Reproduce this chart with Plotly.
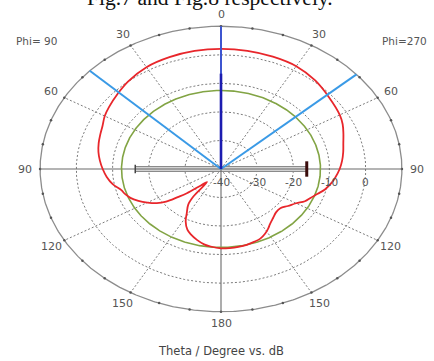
import numpy as np
import plotly.graph_objects as go

# ---------------- data ----------------
R_MIN, R_MAX = -40, 10                      # radial scale (dB): centre .. outer circle
ring_db = [-30, -20, -10, 0]                 # dashed rings
outer_db = 10                                # solid outer ring
spoke_deg = [30, 60, 120, 150, 210, 240, 300, 330]
angle_tick_deg = [0, 30, 60, 90, 120, 150, 180, 210, 240, 270, 300, 330]
angle_labels = ["0", "30", "60", "90", "120", "150", "180", "150", "120", "90", "60", "30"]
radial_tick_db = [-40, -30, -20, -10, 0]
radial_labels = ["-40", "-30", "-20", "-10", "0"]
phi_labels = ["Phi= 90", "Phi=270"]
axis_title = "Theta / Degree vs. dB"
caption_text = "Fig.7 and Fig.8 respectively."

# red: far-field pattern (theta in degrees, + = Phi=270 side, - = Phi=90 side)
red_theta = [-180, -174, -170, -165, -160, -156.4, -152, -148.5, -144, -141.6, -140,
             -136, -132, -129.5, -127, -124, -120, -116, -112, -108, -105, -100,
             -95, -90, -85, -80, -75, -70, -65, -60, -55, -47, -40, -30, -20, -10,
             0, 10, 20, 30, 40, 50, 60, 65, 70, 75, 80, 85, 90, 96, 100, 104, 108,
             112, 116, 120, 125, 130, 135, 140, 145, 148, 152, 156, 160, 165, 170,
             175, 180]
red_db = [-12.2, -12.7, -13.2, -14.3, -15.6, -16.8, -19.2, -21.9, -24.6, -27.7, -34.0,
          -32.0, -27.3, -24.5, -21.0, -18.6, -16.5, -14.6, -13.0, -12.0, -11.5, -9.6,
          -8.3, -7.3, -6.4, -5.6, -5.0, -4.5, -3.9, -2.9, -2.2, -1.1, 0.0, 1.2, 1.7, 2.0,
          2.1, 2.05, 1.9, 1.6, 0.5, -1.0, -2.1, -2.9, -4.0, -5.0, -5.7, -6.4, -7.2, -8.4,
          -9.3, -10.4, -11.9, -13.2, -14.2, -16.0, -17.4, -18.6, -18.5, -17.6, -16.4,
          -15.4, -14.2, -13.3, -12.9, -12.5, -12.3, -12.2, -12.2]

green_db = -12.5                 # reference (-3 dB style) circle
main_lobe_deg = 0                # main lobe direction marker
main_lobe_dark_db = -6.6
beam_edge_deg = [-46.5, 48.5]    # angular width markers
bar_theta = [-90, 90]            # grey side-lobe bar
bar_db = -16.3

# ---------------- helpers ----------------
def xy(theta_deg, db):
    t = np.radians(np.asarray(theta_deg, dtype=float))
    rn = (np.asarray(db, dtype=float) - R_MIN) / (R_MAX - R_MIN)
    return rn * np.sin(t), rn * np.cos(t)

full_circle = np.linspace(0, 360, 721)
FONT = "DejaVu Sans"
GRID = "#7c7c7c"

fig = go.Figure()

def add_line(x, y, color, width, dash=None, shape="linear"):
    fig.add_trace(go.Scatter(x=x, y=y, mode="lines", hoverinfo="skip",
                             line=dict(color=color, width=width, dash=dash, shape=shape)))

# dashed rings
for d in ring_db:
    x, y = xy(full_circle, [d] * len(full_circle))
    add_line(x, y, GRID, 1, dash="2px,2px")
# dashed spokes
for a in spoke_deg:
    x, y = xy([a, a], [R_MIN, outer_db])
    add_line(x, y, GRID, 1, dash="2px,2px")
# outer ring
x, y = xy(full_circle, [outer_db] * len(full_circle))
add_line(x, y, "#8c8c8c", 1.3)
# small ticks on outer ring every 10 degrees
tk = np.arange(0, 360, 10)
x, y = xy(tk, [outer_db] * len(tk))
fig.add_trace(go.Scatter(x=x, y=y, mode="markers", hoverinfo="skip",
                         marker=dict(size=2.5, color="#555555")))

# grey bar
x, y = xy(bar_theta, [bar_db, bar_db])
add_line(x, y, "#8a8a8a", 6)
add_line(x, y, "#d2d2d2", 4)

# solid axes
x, y = xy([270, 90], [outer_db, outer_db])
add_line(x, y, "#6a6a6a", 1.1)
x, y = xy([0, 180], [outer_db, outer_db])
add_line(x, y, "#6a6a6a", 1.1)

# bar end caps
x, y = xy([bar_theta[0]], [bar_db])
fig.add_trace(go.Scatter(x=x, y=y, mode="markers", hoverinfo="skip",
                         marker=dict(symbol="line-ns", size=6,
                                     line=dict(width=1.5, color="#444444"))))
x, y = xy([bar_theta[1]], [bar_db])
fig.add_trace(go.Scatter(x=x, y=y, mode="markers", hoverinfo="skip",
                         marker=dict(symbol="line-ns", size=11,
                                     line=dict(width=3, color="#3a0c0c"))))

# green reference circle
x, y = xy(full_circle, [green_db] * len(full_circle))
add_line(x, y, "#82a444", 1.6)

# red pattern
x, y = xy(red_theta, red_db)
add_line(x, y, "#e8262b", 1.8, shape="spline")

# beam edge markers (light blue)
for a in beam_edge_deg:
    x, y = xy([a, a], [R_MIN, outer_db])
    add_line(x, y, "#3a9ae6", 2)

# main lobe marker
x, y = xy([main_lobe_deg, main_lobe_deg], [R_MIN, outer_db])
add_line(x, y, "#3d55d0", 2)
x, y = xy([main_lobe_deg, main_lobe_deg], [R_MIN, main_lobe_dark_db])
add_line(x, y, "#1c1cb0", 2.6)

# ---------------- text ----------------
ann = []
R_LAB = 1.085
for a, lab in zip(angle_tick_deg, angle_labels):
    t = np.radians(a)
    ann.append(dict(x=R_LAB * np.sin(t), y=R_LAB * np.cos(t), xref="x", yref="y",
                    text=lab, showarrow=False,
                    font=dict(family=FONT, size=11, color="#555555")))
for d, lab in zip(radial_tick_db, radial_labels):
    rx, _ = xy([90], [d])
    ann.append(dict(x=float(rx[0]), y=-0.089, xref="x", yref="y", text=lab,
                    showarrow=False, font=dict(family=FONT, size=10.5, color="#555555")))
ann.append(dict(x=-1.018, y=0.9, xref="x", yref="y", text=phi_labels[0], showarrow=False,
                font=dict(family=FONT, size=10.5, color="#555555")))
ann.append(dict(x=1.017, y=0.9, xref="x", yref="y", text=phi_labels[1], showarrow=False,
                font=dict(family=FONT, size=10.5, color="#555555")))
ann.append(dict(x=0.5, y=-0.0787, xref="paper", yref="paper", text=axis_title,
                showarrow=False, xanchor="center", yanchor="middle",
                font=dict(family=FONT, size=11.5, color="#444444")))
ann.append(dict(x=0.4736, y=1.044, xref="paper", yref="paper", text=caption_text,
                showarrow=False, xanchor="center", yanchor="middle",
                font=dict(family="Liberation Serif", size=21.6, color="#111111")))

fig.update_layout(
    width=434, height=361,
    margin=dict(l=22, r=14, t=12, b=35, pad=0),
    paper_bgcolor="white", plot_bgcolor="white",
    showlegend=False,
    xaxis=dict(range=[-1.1, 1.1], visible=False, fixedrange=True),
    yaxis=dict(range=[-1.1, 1.1], visible=False, fixedrange=True),
    annotations=ann,
)

fig.write_html("out.html", config={"displayModeBar": False},
               post_script="document.body.style.margin='0';document.body.style.overflow='hidden';")
